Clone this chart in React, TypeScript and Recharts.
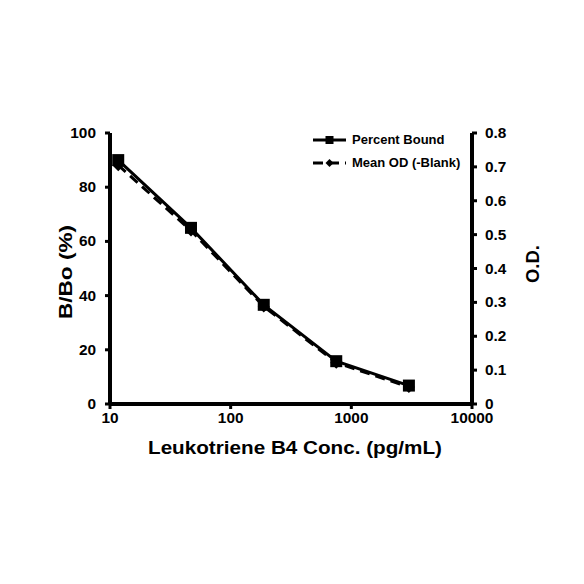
import React from 'react';
import { ComposedChart, Line, XAxis, YAxis, Label } from 'recharts';

const concentrations = [11.7, 46.9, 188, 750, 3000];
const percentBound = [90, 65, 36.6, 15.8, 6.8];
const meanOD = [0.705, 0.512, 0.288, 0.122, 0.05];
const xTicks = [10, 100, 1000, 10000];
const leftTicks = [0, 20, 40, 60, 80, 100];
const rightTicks = [0, 0.1, 0.2, 0.3, 0.4, 0.5, 0.6, 0.7, 0.8];
const seriesNames = ['Percent Bound', 'Mean OD (-Blank)'];
const xTitle = 'Leukotriene B4 Conc. (pg/mL)';
const leftTitle = 'B/Bo (%)';
const rightTitle = 'O.D.';

const data = concentrations.map((c, i) => ({ conc: c, pb: percentBound[i], od: meanOD[i] }));

const FONT = '"Liberation Sans", Arial, sans-serif';

const SquareDot = (props: any) => {
  const { cx, cy } = props;
  if (cx == null || cy == null) return null;
  return <rect x={cx - 6} y={cy - 6} width={12} height={12} fill="#000" />;
};
const DiamondDot = (props: any) => {
  const { cx, cy } = props;
  if (cx == null || cy == null) return null;
  return <polygon points={`${cx},${cy - 6} ${cx + 6},${cy} ${cx},${cy + 6} ${cx - 6},${cy}`} fill="#000" />;
};

const StretchTick = (props: any) => {
  const { x, y, payload, textAnchor, orientation, tickFormatter } = props;
  const label = tickFormatter ? tickFormatter(payload.value) : String(payload.value);
  const dy = orientation === 'bottom' ? '0.72em' : '0.36em';
  return (
    <g transform={`translate(${x} ${y}) scale(1.1 1)`}>
      <text x={0} y={0} dy={dy} textAnchor={textAnchor} fill="#000" style={{ fontFamily: FONT, fontSize: 14, fontWeight: 700 }}>
        {label}
      </text>
    </g>
  );
};

const LegendBox = () => (
  <div style={{ position: 'absolute', left: 311, top: 128, fontFamily: FONT, fontSize: 13, fontWeight: 700, color: '#000', lineHeight: '23px' }}>
    <div style={{ display: 'flex', alignItems: 'center' }}>
      <svg width={38} height={12} style={{ marginRight: 3 }}>
        <line x1={2} y1={6} x2={35} y2={6} stroke="#000" strokeWidth={3} />
        <rect x={14.5} y={2} width={8} height={8} fill="#000" />
      </svg>
      <span>{seriesNames[0]}</span>
    </div>
    <div style={{ display: 'flex', alignItems: 'center' }}>
      <svg width={38} height={12} style={{ marginRight: 3 }}>
        <line x1={2} y1={6} x2={35} y2={6} stroke="#000" strokeWidth={3} strokeDasharray="10 6" />
        <polygon points="18.5,2 22.5,6 18.5,10 14.5,6" fill="#000" />
      </svg>
      <span>{seriesNames[1]}</span>
    </div>
  </div>
);

const titleStyle = { fontFamily: FONT, fontSize: 18, fontWeight: 700 };

export default function App() {
  return (
    <div style={{ position: 'absolute', left: 0, top: 0, width: 584, height: 584, background: '#fff' }}>
      <ComposedChart width={584} height={584} data={data} margin={{ top: 133, right: 52, bottom: 150, left: 50 }}>
        <XAxis
          dataKey="conc"
          type="number"
          scale="log"
          domain={[10, 10000]}
          ticks={xTicks}
          allowDataOverflow
          axisLine={{ stroke: '#000', strokeWidth: 4 }}
          tickLine={{ stroke: '#000', strokeWidth: 3 }}
          tickSize={5}
          tickMargin={4}
          tick={<StretchTick />}
          height={30}
        >
          <Label
            content={() => (
              <text x={295} y={454} textAnchor="middle" textLength={294} lengthAdjust="spacingAndGlyphs" style={titleStyle} fill="#000">
                {xTitle}
              </text>
            )}
          />
        </XAxis>
        <YAxis
          yAxisId="left"
          domain={[0, 100]}
          ticks={leftTicks}
          axisLine={{ stroke: '#000', strokeWidth: 4 }}
          tickLine={{ stroke: '#000', strokeWidth: 3 }}
          tickSize={5}
          tickMargin={9}
          tick={<StretchTick />}
          width={60}
        >
          <Label
            content={() => (
              <text x={72} y={272} transform="rotate(-90 72 272)" textAnchor="middle" textLength={94} lengthAdjust="spacingAndGlyphs" style={titleStyle} fill="#000">
                {leftTitle}
              </text>
            )}
          />
        </YAxis>
        <YAxis
          yAxisId="right"
          orientation="right"
          domain={[0, 0.8]}
          ticks={rightTicks}
          tickFormatter={(v: number) => (v === 0 ? '0' : v.toFixed(1))}
          axisLine={{ stroke: '#000', strokeWidth: 4 }}
          tickLine={{ stroke: '#000', strokeWidth: 3 }}
          tickSize={5}
          tickMargin={8}
          tick={<StretchTick />}
          width={60}
        >
          <Label
            content={() => (
              <text x={539} y={264} transform="rotate(-90 539 264)" textAnchor="middle" textLength={38} lengthAdjust="spacingAndGlyphs" style={titleStyle} fill="#000">
                {rightTitle}
              </text>
            )}
          />
        </YAxis>
        <Line
          yAxisId="right"
          dataKey="od"
          stroke="#000"
          strokeWidth={3}
          strokeDasharray="10 6"
          dot={<DiamondDot />}
          isAnimationActive={false}
        />
        <Line
          yAxisId="left"
          dataKey="pb"
          stroke="#000"
          strokeWidth={3}
          dot={<SquareDot />}
          isAnimationActive={false}
        />
      </ComposedChart>
      <LegendBox />
    </div>
  );
}
